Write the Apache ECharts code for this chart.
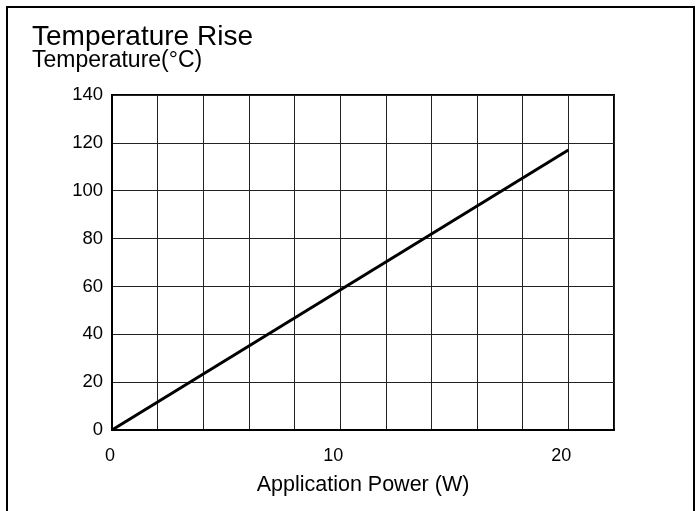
<!DOCTYPE html>
<html>
<head>
<meta charset="utf-8">
<script src="https://cdn.jsdelivr.net/npm/echarts@6/dist/echarts.min.js"></script>
<style>
html,body{margin:0;padding:0;background:#fff;}
#chart{width:699px;height:511px;}
</style>
</head>
<body>
<div id="chart"></div>
<script>
var power = [0, 20];
var temperature = [0, 117];
var xTickLabels = [0, 10, 20];
var yTicks = [0, 20, 40, 60, 80, 100, 120, 140];

var FONT = 'Liberation Sans, Arial, sans-serif';
var chart = echarts.init(document.getElementById('chart'), null, {renderer: 'canvas'});
var pts = power.map(function (p, i) { return [p, temperature[i]]; });

chart.setOption({
  animation: false,
  backgroundColor: '#fff',
  title: [{
    text: 'Temperature Rise',
    left: 27,
    top: 18,
    textStyle: {fontFamily: FONT, fontSize: 28, fontWeight: 'normal', color: '#000'}
  }, {
    text: 'Temperature(°C)',
    left: 27,
    top: 44,
    textStyle: {fontFamily: FONT, fontSize: 23, fontWeight: 'normal', color: '#000'}
  }],
  graphic: [{
    type: 'rect',
    shape: {x: 7, y: 7, width: 687, height: 520},
    style: {fill: 'none', stroke: '#000', lineWidth: 2},
    silent: true
  }],
  grid: {
    left: 112, right: 85, top: 95, bottom: 81,
    show: true, borderColor: '#000', borderWidth: 2
  },
  xAxis: {
    type: 'value',
    min: 0, max: 22, interval: 2,
    name: 'Application Power (W)',
    nameLocation: 'middle',
    nameGap: 44,
    nameTextStyle: {fontFamily: FONT, fontSize: 21.5, color: '#000'},
    axisLine: {lineStyle: {color: '#000', width: 2}},
    axisTick: {show: false},
    axisLabel: {
      fontFamily: FONT, fontSize: 18, color: '#000', margin: 17,
      align: 'right', padding: [0, -3, 0, 0],
      formatter: function (v) { return xTickLabels.indexOf(v) >= 0 ? String(v) : ''; }
    },
    splitLine: {show: true, lineStyle: {color: '#222', width: 1}}
  },
  yAxis: {
    type: 'value',
    min: 0, max: 140, interval: 20,
    axisLine: {show: true, lineStyle: {color: '#000', width: 2}},
    axisTick: {show: false},
    axisLabel: {
      fontFamily: FONT, fontSize: 18.5, color: '#000', margin: 9,
      padding: [4, 0, 0, 0],
      formatter: function (v) { return yTicks.indexOf(v) >= 0 ? String(v) : ''; }
    },
    splitLine: {show: true, lineStyle: {color: '#222', width: 1}}
  },
  series: [{
    type: 'line',
    data: pts,
    showSymbol: false,
    symbol: 'none',
    lineStyle: {color: '#000', width: 3},
    z: 5
  }]
});
</script>
</body>
</html>
